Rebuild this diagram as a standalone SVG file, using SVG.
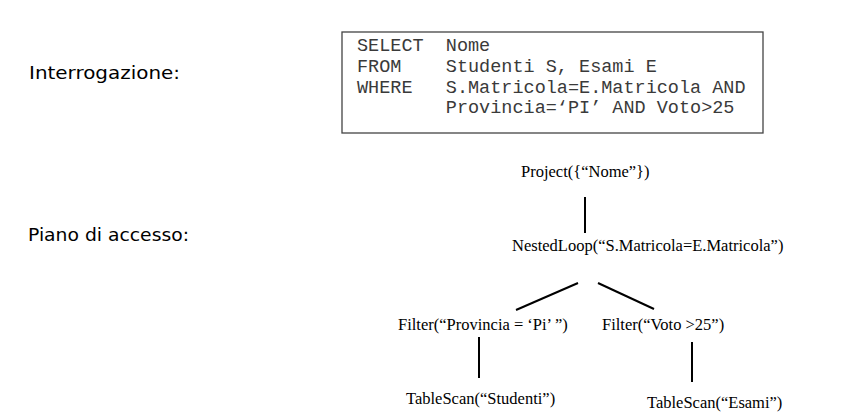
<svg xmlns="http://www.w3.org/2000/svg" width="863" height="419" viewBox="0 0 863 419">
<style>
.lbl{font-family:"DejaVu Sans","Liberation Sans",sans-serif;font-size:18px;fill:#000}
.sql{font-family:"Liberation Mono","Courier New",monospace;font-size:18.5px;fill:#3a3a3a}
.op{font-family:"Liberation Serif","Times New Roman",serif;font-size:16.5px;fill:#000}
.edge{stroke:#000;stroke-width:2;fill:none}
</style>
<rect width="863" height="419" fill="#fff"/>
<g id="label-interrogazione"><text class="lbl" x="29" y="79" textLength="151" lengthAdjust="spacingAndGlyphs">Interrogazione:</text></g>
<g id="label-piano"><text class="lbl" x="28" y="241" textLength="161" lengthAdjust="spacingAndGlyphs">Piano di accesso:</text></g>
<g id="query">
<rect x="342" y="32" width="421" height="101" fill="#fff" stroke="#444" stroke-width="1.3"/>
<text class="sql" x="357" y="51" xml:space="preserve">SELECT  Nome</text>
<text class="sql" x="357" y="72" xml:space="preserve">FROM    Studenti S, Esami E</text>
<text class="sql" x="357" y="92.5" xml:space="preserve">WHERE   S.Matricola=E.Matricola AND</text>
<text class="sql" x="357" y="113" xml:space="preserve">        Provincia=‘PI’ AND Voto&gt;25</text>
</g>
<g id="connectors">
<line class="edge" x1="585" y1="197" x2="585" y2="233"/>
<line class="edge" x1="516" y1="310" x2="578" y2="283"/>
<line class="edge" x1="598" y1="283" x2="654" y2="309"/>
<line class="edge" x1="479" y1="337" x2="479" y2="378"/>
<line class="edge" x1="692" y1="342" x2="692" y2="382"/>
</g>
<g id="project"><text class="op" x="521" y="177">Project({“Nome”})</text></g>
<g id="nestedloop"><text class="op" x="512" y="251">NestedLoop(“S.Matricola=E.Matricola”)</text></g>
<g id="filter-provincia"><text class="op" x="398" y="330" xml:space="preserve">Filter(“Provincia = ‘Pi’ ”)</text></g>
<g id="filter-voto"><text class="op" x="602" y="330">Filter(“Voto &gt;25”)</text></g>
<g id="scan-studenti"><text class="op" x="406" y="404">TableScan(“Studenti”)</text></g>
<g id="scan-esami"><text class="op" x="647" y="408">TableScan(“Esami”)</text></g>
</svg>
